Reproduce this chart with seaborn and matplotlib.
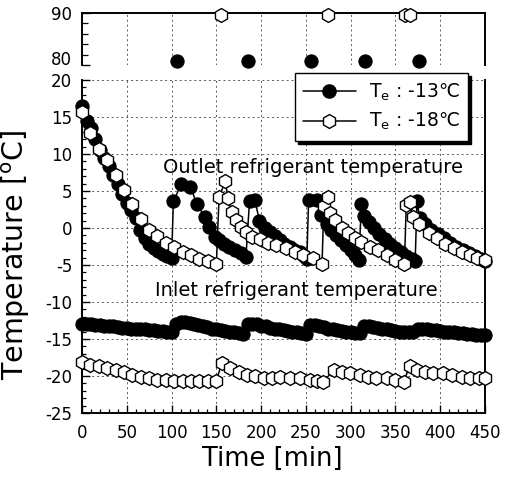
import matplotlib
matplotlib.use("Agg")
import matplotlib.pyplot as plt
import seaborn as sns
import pandas as pd
from matplotlib.lines import Line2D
from matplotlib.ticker import MultipleLocator, FixedLocator

# ---------------- data ----------------
# outlet refrigerant temperature, Te = -13 C (filled circles)
out13_t = [0, 5, 10, 15, 20, 25, 30, 35, 40, 45, 50, 55, 60, 65, 70, 75, 80, 85, 90, 95, 100,
           102, 111, 121, 128, 137, 142, 148, 153, 158, 164, 171, 177, 183,
           187, 193, 198, 204, 210, 215, 221, 226, 232, 237, 243, 248, 251,
           253, 262, 267, 273, 278, 284, 289, 295, 300, 305, 309,
           312, 315, 320, 326, 332, 338, 344, 350, 356, 362, 368, 372,
           374, 377, 383, 390, 397, 404, 411, 418, 425, 432, 439, 445, 450]
out13_v = [16.5, 14.5, 13.5, 12.0, 10.6, 9.5, 8.4, 7.2, 6.0, 4.6, 3.4, 2.4, 1.3, -0.3, -1.3, -2.2, -2.7, -3.1, -3.5, -3.8, -4.1,
           3.6, 6.0, 5.6, 3.3, 1.5, 0.1, -1.2, -1.6, -2.1, -2.5, -3.0, -3.4, -3.9,
           3.6, 3.8, 1.0, 0.0, -0.6, -1.1, -1.6, -2.1, -2.5, -2.9, -3.3, -3.8, -4.2,
           3.8, 3.8, 1.8, 0.6, -0.3, -1.0, -1.6, -2.3, -3.0, -3.7, -4.3,
           3.3, 1.6, 0.8, 0.0, -0.8, -1.5, -2.1, -2.7, -3.3, -3.8, -4.2, -4.4,
           3.6, 1.4, 0.6, -0.2, -0.8, -1.4, -2.0, -2.5, -3.0, -3.4, -3.8, -4.2, -4.5]

# outlet refrigerant temperature, Te = -18 C (open hexagons)
out18_t = [0, 9, 19, 28, 38, 47, 56, 66, 75, 84, 94, 103, 113, 122, 131, 141, 150,
           153, 160, 163, 167, 172, 177, 183, 190, 199, 208, 217, 228, 238, 247, 258, 268,
           270, 275, 277, 283, 290, 297, 305, 312, 321, 331, 340, 350, 360,
           362, 366, 369, 376, 387, 396, 405, 415, 424, 433, 441, 450]
out18_v = [15.7, 12.8, 10.7, 9.2, 7.1, 5.2, 3.2, 1.2, -0.2, -1.1, -2.0, -2.6, -3.2, -3.7, -4.2, -4.5, -4.9,
           4.2, 6.3, 4.0, 2.2, 1.1, 0.2, -0.6, -1.2, -1.5, -2.0, -2.3, -2.7, -3.2, -3.6, -4.1, -4.8,
           3.0, 4.2, 2.0, 1.1, 0.0, -0.7, -1.4, -1.9, -2.5, -3.0, -3.6, -4.3, -4.8,
           3.1, 3.5, 1.5, 0.5, -0.7, -1.4, -2.1, -2.7, -3.2, -3.6, -4.1, -4.3]

# inlet refrigerant temperature, Te = -13 C
in13_t = [0, 5, 10, 15, 20, 25, 30, 35, 40, 45, 50, 55, 60, 65, 70, 75, 80, 85, 90, 95, 100,
          105, 110, 115, 120, 125, 130, 135, 140, 145, 150, 155, 160, 165, 170, 175, 180,
          185, 190, 195, 200, 205, 210, 215, 220, 225, 230, 235, 240, 245, 250,
          255, 260, 265, 270, 275, 280, 285, 290, 295, 300, 305, 310,
          315, 320, 325, 330, 335, 340, 345, 350, 355, 360, 365, 370,
          375, 380, 385, 390, 395, 400, 405, 410, 415, 420, 425, 430, 435, 440, 445, 450]
in13_v = [-12.9, -12.9, -13.0, -13.1, -13.1, -13.2, -13.3, -13.3, -13.4, -13.5, -13.5, -13.6, -13.6, -13.7, -13.7, -13.8, -13.8, -13.9, -13.9, -14.0, -14.0,
          -12.9, -12.7, -12.7, -12.8, -12.9, -13.1, -13.3, -13.4, -13.6, -13.7, -13.8, -13.9, -14.0, -14.1, -14.2, -14.3,
          -13.0, -12.9, -13.0, -13.2, -13.3, -13.5, -13.6, -13.7, -13.8, -13.9, -14.0, -14.1, -14.2, -14.3,
          -13.1, -13.1, -13.3, -13.4, -13.6, -13.7, -13.8, -13.9, -14.0, -14.1, -14.2, -14.2,
          -13.3, -13.3, -13.4, -13.5, -13.6, -13.7, -13.8, -13.9, -14.0, -14.0, -14.1, -14.1,
          -13.6, -13.6, -13.7, -13.8, -13.8, -13.9, -14.0, -14.0, -14.1, -14.2, -14.2, -14.3, -14.3, -14.4, -14.5, -14.5]

# inlet refrigerant temperature, Te = -18 C
in18_t = [0, 9, 19, 28, 38, 47, 56, 66, 75, 84, 94, 103, 113, 122, 131, 141, 150,
          156, 165, 175, 184, 193, 203, 212, 221, 232, 243, 254, 262, 269,
          281, 290, 299, 310, 319, 328, 340, 349, 359,
          366, 374, 383, 392, 403, 413, 424, 433, 443, 450]
in18_v = [-18.1, -18.5, -18.7, -18.9, -19.2, -19.4, -19.9, -20.1, -20.3, -20.5, -20.5, -20.7, -20.7, -20.7, -20.7, -20.7, -20.6,
          -18.3, -18.9, -19.4, -19.8, -20.0, -20.2, -20.3, -20.1, -20.3, -20.3, -20.5, -20.7, -20.8,
          -19.2, -19.4, -19.6, -19.9, -20.1, -20.3, -20.3, -20.5, -20.8,
          -18.6, -19.2, -19.4, -19.6, -19.6, -19.9, -20.1, -20.3, -20.3, -20.3]

# defrost peak temperatures (upper broken-axis panel)
peak13_t = [106, 185, 256, 316, 376]
peak13_v = [80.8, 80.8, 80.8, 80.8, 80.8]
peak18_t = [155, 275, 361, 366]
peak18_v = [89.7, 89.7, 89.7, 89.7]

xticks = [0, 50, 100, 150, 200, 250, 300, 350, 400, 450]
yticks = [-25, -20, -15, -10, -5, 0, 5, 10, 15, 20]
yticks_top = [80, 90]

label13 = "T$_\\mathregular{e}$ : -13\u2103"
label18 = "T$_\\mathregular{e}$ : -18\u2103"

# ---------------- style ----------------
sns.set_theme(style="ticks")
plt.rcParams["font.family"] = ["DejaVu Sans"]
plt.rcParams["mathtext.fontset"] = "dejavusans"
plt.rcParams["axes.unicode_minus"] = False
plt.rcParams["text.color"] = "black"
plt.rcParams["axes.labelcolor"] = "black"
plt.rcParams["xtick.color"] = "black"
plt.rcParams["ytick.color"] = "black"

fig = plt.figure(figsize=(5.16, 4.82), dpi=100)
ax_top = fig.add_axes([0.159, 0.865, 0.781, 0.108])
ax = fig.add_axes([0.159, 0.143, 0.781, 0.691])

grid_kw = dict(color="0.35", linestyle=(0, (2, 3)), linewidth=0.7)
black_kw = dict(color="black", linewidth=1.1, marker="o", markersize=9.5,
                markerfacecolor="black", markeredgecolor="black", markeredgewidth=0.8,
                clip_on=False, sort=False, estimator=None)
white_kw = dict(color="black", linewidth=1.1, marker="h", markersize=10,
                markerfacecolor="white", markeredgecolor="black", markeredgewidth=1.0,
                clip_on=False, sort=False, estimator=None)

d_o13 = pd.DataFrame({"t": out13_t, "v": out13_v})
d_o18 = pd.DataFrame({"t": out18_t, "v": out18_v})
d_i13 = pd.DataFrame({"t": in13_t, "v": in13_v})
d_i18 = pd.DataFrame({"t": in18_t, "v": in18_v})

sns.lineplot(data=d_i13, x="t", y="v", ax=ax, zorder=3, **black_kw)
sns.lineplot(data=d_o13, x="t", y="v", ax=ax, zorder=3, **black_kw)
sns.lineplot(data=d_i18, x="t", y="v", ax=ax, zorder=4, **white_kw)
sns.lineplot(data=d_o18, x="t", y="v", ax=ax, zorder=4, **white_kw)

sns.scatterplot(x=peak13_t, y=peak13_v, ax=ax_top, marker="o", s=90, color="black",
                edgecolor="black", linewidth=0.8, clip_on=False, zorder=3)
sns.scatterplot(x=peak18_t, y=peak18_v, ax=ax_top, marker="h", s=100, facecolor="white",
                edgecolor="black", linewidth=1.0, clip_on=False, zorder=4)

# ---------------- bottom axes ----------------
ax.set_xlim(0, 450)
ax.set_ylim(-25, 20)
ax.xaxis.set_major_locator(FixedLocator(xticks))
ax.xaxis.set_minor_locator(MultipleLocator(10))
ax.yaxis.set_major_locator(FixedLocator(yticks))
ax.yaxis.set_minor_locator(MultipleLocator(1))
ax.tick_params(axis="both", which="major", direction="in", length=6, width=1.0,
               labelsize=12, color="black", labelcolor="black")
ax.tick_params(axis="both", which="minor", direction="in", length=3, width=0.9, color="black")
ax.tick_params(axis="x", which="major", pad=8)
ax.tick_params(axis="y", which="major", pad=7)
ax.grid(True, which="major", **grid_kw)
for s in ["left", "bottom", "right"]:
    ax.spines[s].set_linewidth(1.4)
    ax.spines[s].set_color("black")
ax.spines["top"].set_visible(False)
ax.set_xlabel("Time [min]", fontsize=18.5, color="black")
ax.set_ylabel("Temperature [$^\\mathregular{o}$C]", fontsize=20.5, color="black")
ax.xaxis.set_label_coords(0.473, -0.098)
ax.yaxis.set_label_coords(-0.125, 0.474)

ax.text(90.5, 8.2, "Outlet refrigerant temperature", fontsize=14, va="center", ha="left",
        color="black", zorder=5)
ax.text(81.5, -8.4, "Inlet refrigerant temperature", fontsize=14, va="center", ha="left",
        color="black", zorder=5)

handles = [
    Line2D([], [], color="black", linewidth=1.1, marker="o", markersize=9.5,
           markerfacecolor="black", markeredgecolor="black"),
    Line2D([], [], color="black", linewidth=1.1, marker="h", markersize=10,
           markerfacecolor="white", markeredgecolor="black"),
]
leg = ax.legend(handles, [label13, label18], loc="upper right", bbox_to_anchor=(0.958, 1.021),
                borderaxespad=0, fontsize=13.5, handlelength=2.8, handletextpad=0.7,
                labelspacing=0.45, borderpad=0.45, frameon=True, fancybox=False, framealpha=1,
                edgecolor="black", labelcolor="black",
                shadow={"facecolor": "black", "edgecolor": "black", "alpha": 1})
leg.get_frame().set_linewidth(1.0)
leg.set_zorder(10)

# ---------------- top axes ----------------
ax_top.set_xlim(0, 450)
ax_top.set_ylim(80, 90)
ax_top.xaxis.set_major_locator(FixedLocator([50, 100, 150, 200, 250, 300, 350, 400]))
ax_top.tick_params(axis="x", which="both", length=0, labelbottom=False)
ax_top.yaxis.set_major_locator(FixedLocator(yticks_top))
ax_top.yaxis.set_minor_locator(MultipleLocator(2))
ax_top.tick_params(axis="y", which="major", direction="in", length=6, width=1.0,
                   labelsize=12, pad=7, color="black", labelcolor="black")
ax_top.tick_params(axis="y", which="minor", direction="in", length=4, width=0.9, color="black")
ax_top.grid(True, which="major", **grid_kw)
for s in ["left", "top", "right"]:
    ax_top.spines[s].set_linewidth(1.4)
    ax_top.spines[s].set_color("black")
ax_top.spines["bottom"].set_visible(False)
ax_top.set_xlabel("")
ax_top.set_ylabel("")
# lift the "80" label slightly (as in the reference) so it clears the "20" below it
ax_top.get_yticklabels()[0].set_va("baseline")

fig.savefig("out.png", dpi=100)
